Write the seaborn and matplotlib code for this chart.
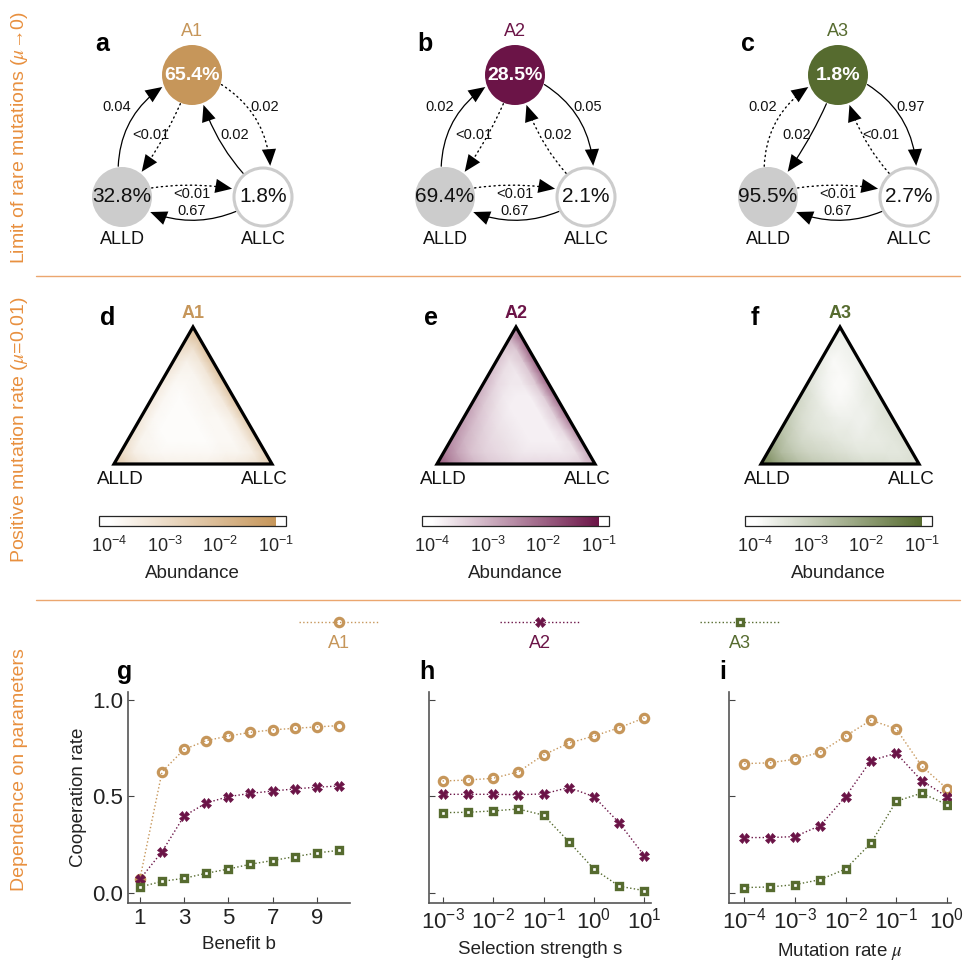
import numpy as np
import matplotlib
matplotlib.use('Agg')
import matplotlib.pyplot as plt
import matplotlib.tri as mtri
import seaborn as sns
from matplotlib.patches import Circle, FancyArrowPatch, Polygon
from matplotlib.colors import LinearSegmentedColormap, Normalize
from matplotlib.cm import ScalarMappable

sns.set_theme(style='ticks')
plt.rcParams['font.family'] = ['Liberation Sans', 'DejaVu Sans']
plt.rcParams['mathtext.fontset'] = 'stix'

W, H = 963, 966

# colours
col = ['#C6965A', '#6B1447', '#566B2F']
orange = '#E8903F'
grey = '#CCCCCC'

# ---- a-c : limit of rare mutations ----
names = ['A1', 'A2', 'A3']
pct_A = [65.4, 28.5, 1.8]
pct_ALLD = [32.8, 69.4, 95.5]
pct_ALLC = [1.8, 2.1, 2.7]
# order: ALLD->A, A->ALLD, A->ALLC, ALLC->A, ALLD->ALLC, ALLC->ALLD
rho_a = ['0.04', '<0.01', '0.02', '0.02', '<0.01', '0.67']
rho_b = ['0.02', '<0.01', '0.05', '0.02', '<0.01', '0.67']
rho_c = ['0.02', '0.02', '0.97', '<0.01', '<0.01', '0.67']
favoured_a = [True, False, False, True, False, True]
favoured_b = [True, False, True, False, False, True]
favoured_c = [False, True, True, False, False, True]

# ---- d-f : log10 abundance on the simplex ----
# rows go from the ALLD-ALLC edge (bottom) up to the A corner, left to right
logab_d = [[-2.4, -2.9, -3.3, -3.5, -3.6, -3.6, -3.6, -3.6, -3.5, -3.4, -3.3, -3.1, -2.7],
           [-2.9, -3.5, -3.7, -3.8, -3.8, -3.8, -3.8, -3.8, -3.7, -3.7, -3.5, -2.8],
           [-3.1, -3.7, -3.8, -3.9, -3.9, -3.9, -3.9, -3.8, -3.8, -3.5, -2.7],
           [-3.2, -3.7, -3.9, -3.9, -3.9, -3.9, -3.8, -3.8, -3.5, -2.6],
           [-3.3, -3.8, -3.9, -3.9, -3.9, -3.8, -3.8, -3.5, -2.5],
           [-3.3, -3.8, -3.9, -3.9, -3.8, -3.7, -3.4, -2.4],
           [-3.4, -3.8, -3.9, -3.8, -3.7, -3.4, -2.3],
           [-3.4, -3.8, -3.8, -3.7, -3.3, -2.3],
           [-3.3, -3.7, -3.7, -3.3, -2.2],
           [-3.2, -3.6, -3.3, -2.2],
           [-3.0, -3.2, -2.2],
           [-2.7, -2.3],
           [-2.2]]
logab_e = [[-1.8, -2.4, -2.8, -3.1, -3.3, -3.4, -3.5, -3.5, -3.5, -3.5, -3.5, -3.4, -3.0],
           [-2.3, -2.8, -3.2, -3.4, -3.5, -3.6, -3.7, -3.7, -3.7, -3.7, -3.6, -2.9],
           [-2.5, -3.0, -3.3, -3.5, -3.6, -3.7, -3.8, -3.8, -3.8, -3.6, -2.7],
           [-2.6, -3.1, -3.4, -3.6, -3.7, -3.8, -3.8, -3.8, -3.5, -2.5],
           [-2.7, -3.2, -3.5, -3.7, -3.8, -3.8, -3.8, -3.4, -2.3],
           [-2.8, -3.3, -3.6, -3.8, -3.8, -3.8, -3.4, -2.2],
           [-2.9, -3.4, -3.7, -3.8, -3.8, -3.4, -2.1],
           [-3.0, -3.5, -3.7, -3.7, -3.3, -2.0],
           [-3.1, -3.6, -3.7, -3.3, -2.0],
           [-3.2, -3.6, -3.3, -2.0],
           [-3.3, -3.3, -2.0],
           [-3.0, -2.1],
           [-2.4]]
logab_f = [[-1.5, -2.0, -2.4, -2.7, -2.9, -3.0, -3.1, -3.2, -3.3, -3.3, -3.4, -3.4, -3.4],
           [-2.0, -2.6, -2.9, -3.1, -3.2, -3.3, -3.4, -3.5, -3.5, -3.5, -3.5, -3.4],
           [-2.4, -2.9, -3.2, -3.3, -3.4, -3.5, -3.6, -3.6, -3.6, -3.5, -3.4],
           [-2.7, -3.1, -3.4, -3.5, -3.6, -3.6, -3.7, -3.6, -3.5, -3.4],
           [-2.9, -3.3, -3.5, -3.6, -3.7, -3.7, -3.7, -3.5, -3.4],
           [-3.1, -3.4, -3.6, -3.8, -3.8, -3.7, -3.6, -3.4],
           [-3.2, -3.5, -3.8, -3.9, -3.8, -3.6, -3.5],
           [-3.4, -3.7, -3.9, -3.9, -3.7, -3.5],
           [-3.5, -3.8, -3.9, -3.8, -3.6],
           [-3.6, -3.9, -3.8, -3.7],
           [-3.7, -3.8, -3.7],
           [-3.7, -3.7],
           [-3.7]]

# ---- g-i : cooperation rate ----
benefit = [1, 2, 3, 4, 5, 6, 7, 8, 9, 10]
coop_b_A1 = [0.074, 0.628, 0.744, 0.789, 0.813, 0.832, 0.845, 0.853, 0.860, 0.867]
coop_b_A2 = [0.071, 0.214, 0.399, 0.466, 0.499, 0.516, 0.528, 0.539, 0.548, 0.554]
coop_b_A3 = [0.031, 0.060, 0.076, 0.102, 0.124, 0.149, 0.168, 0.188, 0.207, 0.221]

sel = [0.001, 0.00316, 0.01, 0.0316, 0.1, 0.316, 1, 3.16, 10]
coop_s_A1 = [0.580, 0.585, 0.594, 0.627, 0.715, 0.776, 0.813, 0.856, 0.907]
coop_s_A2 = [0.511, 0.511, 0.511, 0.509, 0.513, 0.546, 0.499, 0.363, 0.192]
coop_s_A3 = [0.416, 0.418, 0.425, 0.435, 0.403, 0.266, 0.124, 0.035, 0.012]

mu = [0.0001, 0.000316, 0.001, 0.00316, 0.01, 0.0316, 0.1, 0.316, 1]
coop_m_A1 = [0.670, 0.674, 0.693, 0.729, 0.813, 0.895, 0.850, 0.658, 0.540]
coop_m_A2 = [0.287, 0.287, 0.292, 0.349, 0.499, 0.686, 0.724, 0.582, 0.499]
coop_m_A3 = [0.028, 0.031, 0.043, 0.069, 0.124, 0.258, 0.475, 0.517, 0.458]

fig = plt.figure(figsize=(W / 100, H / 100), dpi=100)

# overlay in pixel coordinates for the diagrams and labels
ov = fig.add_axes([0, 0, 1, 1])
ov.set_xlim(0, W)
ov.set_ylim(H, 0)
ov.axis('off')

# section labels and separators
sec_font = ['Liberation Sans Narrow', 'Liberation Sans', 'DejaVu Sans']
ov.text(20, 138, r'Limit of rare mutations ($\mu$→0)', rotation=90, ha='center', va='center',
        color=orange, fontsize=14, family=sec_font)
ov.text(20, 430, r'Positive mutation rate ($\mu$=0.01)', rotation=90, ha='center', va='center',
        color=orange, fontsize=14, family=sec_font)
ov.text(20, 770, 'Dependence on parameters', rotation=90, ha='center', va='center',
        color=orange, fontsize=14, family=sec_font)
for ysep in [276, 600]:
    ov.plot([36, 960], [ysep, ysep], color='#EBA66F', lw=1)

# network diagrams
node_xy = {'A': (192, 75), 'ALLD': (122, 197), 'ALLC': (263, 197)}
R = 30
edges = [('ALLD', 'A', -97, 158, -0.25), ('A', 'ALLD', 112, -52, -0.05),
         ('A', 'ALLC', 18, -77, -0.25), ('ALLC', 'A', -130, 69, -0.1),
         ('ALLD', 'ALLC', -17, -165, -0.08), ('ALLC', 'ALLD', 152, 28, -0.2)]
label_xy = [(117, 107), (151, 135), (265, 107), (235, 135), (192, 194), (192, 211)]
rhos = [rho_a, rho_b, rho_c]
favs = [favoured_a, favoured_b, favoured_c]
dx_panel = 323

for k in range(3):
    ox = k * dx_panel
    pos = {nm: (x + ox, y) for nm, (x, y) in node_xy.items()}
    ov.add_patch(Circle(pos['A'], R, fc=col[k], ec='none'))
    ov.add_patch(Circle(pos['ALLD'], R, fc=grey, ec='none'))
    ov.add_patch(Circle(pos['ALLC'], R - 1, fc='white', ec=grey, lw=2.2))
    ov.text(*pos['A'], f'{pct_A[k]}%', color='white', fontsize=14, fontweight='bold',
            ha='center', va='center')
    ov.text(*pos['ALLD'], f'{pct_ALLD[k]}%', color='#111', fontsize=15, ha='center', va='center')
    ov.text(*pos['ALLC'], f'{pct_ALLC[k]}%', color='#111', fontsize=15, ha='center', va='center')
    ov.text(pos['A'][0], 32, names[k], color=col[k], fontsize=13, ha='center', va='center')
    ov.text(pos['ALLD'][0], 240, 'ALLD', color='#111', fontsize=13, ha='center', va='center')
    ov.text(pos['ALLC'][0], 240, 'ALLC', color='#111', fontsize=13, ha='center', va='center')
    ov.text(102 + ox, 44, 'abc'[k], fontsize=18, fontweight='bold', ha='center', va='center',
            color='black')
    for e, (src, dst, a0, a1, rad) in enumerate(edges):
        cs, cd = pos[src], pos[dst]
        p0 = (cs[0] + (R + 1) * np.cos(np.radians(a0)), cs[1] + (R + 1) * np.sin(np.radians(a0)))
        p1 = (cd[0] + (R + 2) * np.cos(np.radians(a1)), cd[1] + (R + 2) * np.sin(np.radians(a1)))
        # shaft
        ov.add_patch(FancyArrowPatch(p0, p1, connectionstyle=f'arc3,rad={rad}', arrowstyle='-',
                                     lw=0.9 if favs[k][e] else 1.0, color='black',
                                     linestyle='-' if favs[k][e] else (0, (0.9, 2.6)),
                                     shrinkA=0, shrinkB=9))
        # head
        ov.add_patch(FancyArrowPatch(p0, p1, connectionstyle=f'arc3,rad={rad}',
                                     arrowstyle='-|>,head_length=0.75,head_width=0.32',
                                     mutation_scale=16, lw=0, ec='none', fc='black',
                                     shrinkA=0, shrinkB=0))
        lx, ly = label_xy[e]
        ov.text(lx + ox, ly, rhos[k][e], fontsize=10.5, ha='center', va='center', color='#111')

# simplex heatmaps
tri_left = [114, 437, 761]
cb_left = [99, 422, 745]
logabs = [logab_d, logab_e, logab_f]
n = len(logab_d) - 1
xs, ys = [], []
for i in range(n + 1):
    for j in range(n + 1 - i):
        xs.append((j + i / 2) / n)
        ys.append(i * np.sqrt(3) / 2 / n)
triang = mtri.Triangulation(xs, ys)
norm = Normalize(-4, -1)

for k in range(3):
    cmap = LinearSegmentedColormap.from_list(f'c{k}', ['white', col[k]])
    cmap.set_under('white')
    cmap.set_over('white')
    vals = np.concatenate([np.array(r) for r in logabs[k]])
    axt = fig.add_axes([tri_left[k] / W, (H - 464) / H, 158 / W, 137 / H])
    axt.tripcolor(triang, vals, shading='gouraud', cmap=cmap, norm=norm)
    axt.add_patch(Polygon([[0, 0], [1, 0], [0.5, np.sqrt(3) / 2]], closed=True, fill=False,
                          ec='black', lw=2.3, joinstyle='miter', clip_on=False))
    axt.set_xlim(0, 1)
    axt.set_ylim(0, np.sqrt(3) / 2)
    axt.axis('off')
    cx = tri_left[k] + 79
    ov.text(cx, 313, names[k], color=col[k], fontsize=13, fontweight='bold', ha='center', va='center')
    ov.text(tri_left[k] + 6, 480, 'ALLD', fontsize=13.5, ha='center', va='center', color='#111')
    ov.text(tri_left[k] + 150, 480, 'ALLC', fontsize=13.5, ha='center', va='center', color='#111')
    ov.text(tri_left[k] - 6, 318, 'def'[k], fontsize=18, fontweight='bold', ha='center', va='center',
            color='black')
    ov.text(cb_left[k] + 93, 574, 'Abundance', fontsize=13.5, ha='center', va='center', color='#222')

    cax = fig.add_axes([cb_left[k] / W, (H - 526) / H, 187 / W, 10 / H])
    sm = ScalarMappable(norm=norm, cmap=cmap)
    cb = fig.colorbar(sm, cax=cax, orientation='horizontal', extend='both', extendrect=True,
                      extendfrac=0.06, ticks=[-4, -3, -2, -1])
    cb.set_ticklabels([r'$\mathdefault{10^{-4}}$', r'$\mathdefault{10^{-3}}$',
                       r'$\mathdefault{10^{-2}}$', r'$\mathdefault{10^{-1}}$'])
    cb.outline.set_linewidth(0.9)
    cax.tick_params(direction='in', length=7, width=0.6, color='#777', labelsize=13, pad=7)

# legend row
leg_x = [339, 540, 740]
markers = [dict(marker='o', markersize=6, markerfacecolor='none', markeredgewidth=2.3),
           dict(marker='X', markersize=7, markeredgewidth=0.5),
           dict(marker='s', markersize=5, markerfacecolor='white', markeredgewidth=2.4)]
for k in range(3):
    ov.plot([leg_x[k] - 40, leg_x[k] + 40], [622, 622], ':', color=col[k], lw=1)
    ov.plot([leg_x[k]], [622], color=col[k], markeredgecolor=col[k], **markers[k])
    ov.text(leg_x[k], 643, names[k], color=col[k], fontsize=13, ha='center', va='center')

# bottom panels
series = [(benefit, [coop_b_A1, coop_b_A2, coop_b_A3]),
          (sel, [coop_s_A1, coop_s_A2, coop_s_A3]),
          (mu, [coop_m_A1, coop_m_A2, coop_m_A3])]
ax_left = [128, 429, 729]
xlabels = ['Benefit b', 'Selection strength s', r'Mutation rate $\mu$']
xlims = [(0.46, 10.5), (10 ** -3.27, 10 ** 1.13), (10 ** -4.30, 10 ** 0.08)]
letter_x = [125, 427, 723]
for p in range(3):
    ax = fig.add_axes([ax_left[p] / W, 63 / H, 222 / W, 211 / H])
    ax.patch.set_alpha(0)
    xv, ylist = series[p]
    for k in range(3):
        sns.lineplot(x=xv, y=ylist[k], ax=ax, color=col[k], linestyle=':', lw=1,
                     markeredgecolor=col[k], **markers[k])
    if p > 0:
        ax.set_xscale('log')
        ax.set_xticks([10.0 ** e for e in range(-3 if p == 1 else -4, 2 if p == 1 else 1)])
    else:
        ax.set_xticks([1, 3, 5, 7, 9])
    ax.set_xlim(*xlims[p])
    ax.set_ylim(-0.052, 1.041)
    ax.set_yticks([0, 0.5, 1.0])
    if p == 0:
        ax.set_yticklabels(['0.0', '0.5', '1.0'])
        ax.set_ylabel('Cooperation rate', fontsize=13.5, color='#222', labelpad=4)
    else:
        ax.set_yticklabels([])
    ax.set_xlabel(xlabels[p], fontsize=13.5, color='#222', labelpad=5)
    ax.tick_params(which='both', direction='in', color='#444', labelsize=16, labelcolor='#222')
    ax.tick_params(which='major', length=4, width=0.8)
    ax.tick_params(which='minor', length=2.5, width=0.6)
    sns.despine(ax=ax)
    for s in ['left', 'bottom']:
        ax.spines[s].set_color('#555')
        ax.spines[s].set_linewidth(1.2)
    ov.text(letter_x[p], 672, 'ghi'[p], fontsize=18, fontweight='bold', ha='center', va='center',
            color='black')

fig.savefig('out.png', dpi=100)
